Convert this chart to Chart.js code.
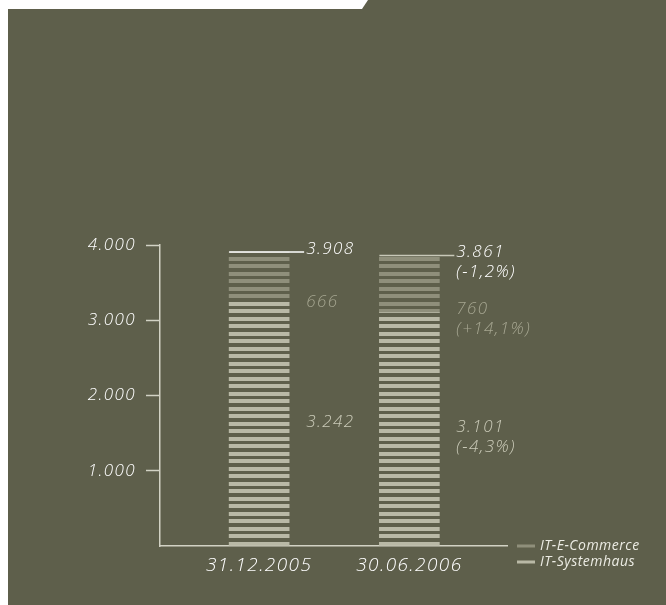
<!DOCTYPE html>
<html>
<head>
<meta charset="utf-8">
<script src="https://cdn.jsdelivr.net/npm/chart.js@4"></script>
<style>
  html, body { margin: 0; padding: 0; background: #ffffff; }
  #wrap { width: 666px; height: 605px; }
</style>
</head>
<body>
<div id="wrap"><canvas id="chart" width="666" height="605"></canvas></div>
<script>
// Daten
const dates = ['31.12.2005', '30.06.2006'];
const systemhaus = [3242, 3101];
const eCommerce = [666, 760];
const systemhausChange = ['', '(-4,3%)'];
const eCommerceChange = ['', '(+14,1%)'];
const totalChange = ['', '(-1,2%)'];
const seriesNames = ['IT-Systemhaus', 'IT-E-Commerce'];

const totals = systemhaus.map((v, i) => v + eCommerce[i]);

const BG = '#5e5f4b';
const LIGHT = '#b9b9a6';
const DARK = '#8f8f7b';
const AXIS = '#d2d2c4';
const TEXT = '#ffffff';
const FONT = '"Open Sans", "DejaVu Sans", sans-serif';

// Punkt als Tausendertrennzeichen
function fmt(n) {
  return String(n).replace(/\B(?=(\d{3})+(?!\d))/g, '.');
}

const canvas = document.getElementById('chart');
const ctx = canvas.getContext('2d');

// Streifenmuster für die Balken
function makeStripes(color) {
  const c = document.createElement('canvas');
  c.width = 4;
  c.height = 15;
  const g = c.getContext('2d');
  g.fillStyle = color;
  g.fillRect(0, 2, 4, 4);
  g.fillRect(0, 9, 4, 4);
  return ctx.createPattern(c, 'repeat');
}

const decorPlugin = {
  id: 'decor',
  beforeDraw(chart) {
    const { ctx, width, height } = chart;
    ctx.save();
    ctx.fillStyle = BG;
    ctx.fillRect(0, 0, width, height);
    ctx.fillStyle = '#ffffff';
    ctx.fillRect(0, 0, 8, height);
    ctx.beginPath();
    ctx.moveTo(0, 0);
    ctx.lineTo(368, 0);
    ctx.lineTo(362, 9);
    ctx.lineTo(0, 9);
    ctx.closePath();
    ctx.fill();
    ctx.restore();
    // weitere Laufweite für die Achsenbeschriftung
    ctx.letterSpacing = '1.4px';
  },
  afterDatasetsDraw(chart) {
    const { ctx } = chart;
    const lowMeta = chart.getDatasetMeta(0);
    const topMeta = chart.getDatasetMeta(1);
    const lineColors = ['#ffffff', '#c8c8b8'];

    ctx.save();
    ctx.letterSpacing = '1.4px';
    ctx.textBaseline = 'middle';
    ctx.textAlign = 'left';
    ctx.font = 'italic 300 17px ' + FONT;

    dates.forEach((d, i) => {
      const top = topMeta.data[i];
      const low = lowMeta.data[i];
      const left = top.x - top.width / 2;
      const right = top.x + top.width / 2;
      const tx = right + 17;

      // Summenlinie
      ctx.strokeStyle = lineColors[i];
      ctx.lineWidth = 1.5;
      ctx.beginPath();
      ctx.moveTo(left, top.y);
      ctx.lineTo(right + 15, top.y);
      ctx.stroke();

      ctx.fillStyle = TEXT;
      ctx.fillText(fmt(totals[i]), tx, top.y - 3);
      if (totalChange[i]) ctx.fillText(totalChange[i], tx, top.y + 17);

      const midTop = (top.y + top.base) / 2 + 25;
      ctx.fillStyle = '#a6a691';
      ctx.fillText(fmt(eCommerce[i]), tx, midTop);
      if (eCommerceChange[i]) ctx.fillText(eCommerceChange[i], tx, midTop + 20);

      const midLow = (low.y + low.base) / 2 - 2;
      ctx.fillStyle = '#cacab8';
      ctx.fillText(fmt(systemhaus[i]), tx, midLow);
      if (systemhausChange[i]) ctx.fillText(systemhausChange[i], tx, midLow + 20);
    });

    // Legende
    ctx.letterSpacing = '0.5px';
    ctx.font = 'italic 14px ' + FONT;
    const legend = [
      { name: seriesNames[1], color: DARK, y: 546 },
      { name: seriesNames[0], color: LIGHT, y: 562 },
    ];
    legend.forEach((item) => {
      ctx.fillStyle = item.color;
      ctx.fillRect(517, item.y - 1.5, 18, 3);
      ctx.fillStyle = '#ececE4';
      ctx.fillText(item.name, 540, item.y + 0.5);
    });
    ctx.restore();
  },
  afterDraw(chart) {
    chart.ctx.letterSpacing = '0px';
  },
};

new Chart(ctx, {
  type: 'bar',
  data: {
    datasets: [
      {
        label: seriesNames[0],
        data: systemhaus.map((v, i) => ({ x: i, y: v })),
        backgroundColor: makeStripes(LIGHT),
        borderWidth: 0,
        barThickness: 60,
      },
      {
        label: seriesNames[1],
        data: eCommerce.map((v, i) => ({ x: i, y: v })),
        backgroundColor: makeStripes(DARK),
        borderWidth: 0,
        barThickness: 60,
      },
    ],
  },
  options: {
    responsive: false,
    animation: false,
    layout: { padding: { top: 245, right: 159, left: 0, bottom: 0 } },
    plugins: {
      legend: { display: false },
      tooltip: { enabled: false },
    },
    scales: {
      x: {
        type: 'linear',
        stacked: true,
        offset: false,
        min: -0.66,
        max: 1.65,
        afterBuildTicks: (scale) => {
          scale.ticks = dates.map((d, i) => ({ value: i }));
        },
        afterFit: (scale) => {
          scale.height = 59;
        },
        grid: { display: false, drawTicks: false, offset: false },
        border: { display: true, color: AXIS, width: 1.5 },
        ticks: {
          padding: 8,
          maxRotation: 0,
          autoSkip: false,
          color: TEXT,
          font: { family: FONT, size: 19, style: 'italic', weight: 300 },
          callback: (v) => dates[v],
        },
      },
      y: {
        stacked: true,
        min: 0,
        max: 4000,
        afterFit: (scale) => {
          scale.width = 160;
        },
        grid: {
          drawOnChartArea: false,
          drawTicks: true,
          tickLength: 14,
          tickWidth: 1.5,
          tickColor: (c) => (c.tick && c.tick.value === 0 ? 'rgba(0,0,0,0)' : AXIS),
        },
        border: { display: true, color: AXIS, width: 1.5 },
        ticks: {
          stepSize: 1000,
          padding: 10,
          color: TEXT,
          font: { family: FONT, size: 17, style: 'italic', weight: 300 },
          callback: (v) => (v === 0 ? '' : fmt(v)),
        },
      },
    },
  },
  plugins: [decorPlugin],
});
</script>
</body>
</html>
